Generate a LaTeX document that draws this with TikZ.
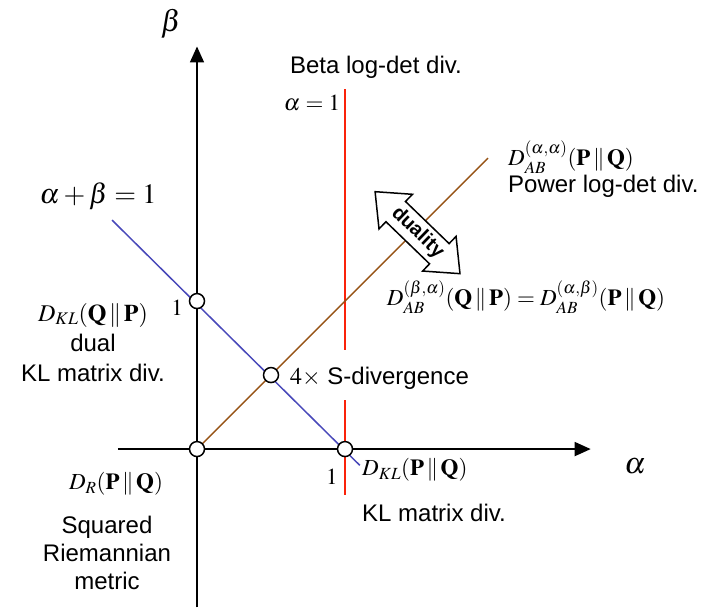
\documentclass[tikz,border=0pt]{standalone}
\usepackage{mathptmx}
\usepackage[no-math]{fontspec}
\setmainfont{Liberation Sans}
\usepackage{amsmath}
\usetikzlibrary{arrows.meta,shapes.arrows}

\definecolor{bluedual}{RGB}{72,72,185}
\definecolor{brownpow}{RGB}{150,82,20}
\definecolor{redbeta}{RGB}{250,35,10}

\begin{document}
\begin{tikzpicture}[x=148pt,y=148pt,
 axis/.style={-{Triangle[length=16pt,width=14pt]},line width=1.6pt},
 curve/.style={line width=1.5pt},
 dot/.style={circle,draw,fill=white,line width=1.5pt,minimum size=15pt,inner sep=0pt},
 txt/.style={font=\fontsize{24}{30}\selectfont,align=center,inner sep=0pt},
 mth/.style={font=\fontsize{23}{30}\selectfont,inner sep=0pt},
 big/.style={font=\fontsize{30}{34}\selectfont,inner sep=0pt}]
\useasboundingbox (-1.331,-1.068) rectangle (3.466,3.034);
% axes
\coordinate (xstart) at (-0.534,0);
\coordinate (xend) at (2.66,0);
\coordinate (ystart) at (0,-1.07);
\coordinate (yend) at (0,2.72);
\draw[axis] (xstart) -- (xend);
\draw[axis] (ystart) -- (yend);
% lines
\coordinate (btop) at (1,2.432);
\coordinate (bmid1) at (1,0.667);
\coordinate (bmid2) at (1,0.33);
\coordinate (bbot) at (1,-0.31);
\draw[curve,redbeta] (btop) -- (bmid1);
\draw[curve,redbeta] (bmid2) -- (bbot);
\coordinate (kltop) at (-0.574,1.547);
\coordinate (klbot) at (1.1,-0.11);
\draw[curve,bluedual] (kltop) -- (klbot);
\coordinate (pwtop) at (1.966,1.966);
\draw[curve,brownpow] (0,0) -- (pwtop);
% points
\node[dot] (o) at (0,0) {};
\node[dot] (b1) at (0,1) {};
\node[dot] (a1) at (1,0) {};
\node[dot] (s) at (0.5,0.5) {};
% duality
\node[double arrow,draw,fill=white,line width=1.5pt,rotate=-44,
 minimum height=118pt,double arrow head extend=10pt,double arrow tip angle=80,
 inner sep=4pt,font=\fontsize{20}{20}\selectfont\bfseries] (dual) at (1.490,1.462) {duality};
% labels
\node[big] (beta) at (-0.176,2.872) {$\beta$};
\node[big] (alpha) at (2.96,-0.12) {$\alpha$};
\node[txt] (betaname) at (1.209,2.581) {Beta log-det div.};
\node[mth] (aeq) at (0.777,2.338) {$\alpha=1$};
\node[mth,font=\fontsize{28}{30}\selectfont] (abeq) at (-0.669,1.709) {$\alpha+\beta=1$};
\node[mth,anchor=west] (dpow) at (2.101,1.973) {$D_{AB}^{(\alpha,\alpha)}(\mathbf{P}\,\|\,\mathbf{Q})$};
\node[txt,anchor=west] (pow) at (2.101,1.777) {Power log-det div.};
\node[mth] (deq) at (2.223,1.027)
 {$D_{AB}^{(\beta,\alpha)}(\mathbf{Q}\,\|\,\mathbf{P})=D_{AB}^{(\alpha,\beta)}(\mathbf{P}\,\|\,\mathbf{Q})$};
\node[txt] (dkldual) at (-0.703,0.72)
 {$D_{KL}(\mathbf{Q}\,\|\,\mathbf{P})$\\dual\\KL matrix div.};
\node[mth] (one1) at (-0.135,0.954) {$1$};
\node[txt,anchor=west] (sdiv) at (0.628,0.48) {$4\times$ S-divergence};
\node[mth] (one2) at (0.912,-0.189) {$1$};
\node[mth,anchor=west] (dkl) at (1.115,-0.142) {$D_{KL}(\mathbf{P}\,\|\,\mathbf{Q})$};
\node[txt,anchor=west] (klname) at (1.115,-0.432) {KL matrix div.};
\node[mth] (dr) at (-0.547,-0.236) {$D_{R}(\mathbf{P}\,\|\,\mathbf{Q})$};
\node[txt,font=\fontsize{24}{28}\selectfont] (riem) at (-0.608,-0.703) {Squared\\Riemannian\\metric};
\end{tikzpicture}
\end{document}
